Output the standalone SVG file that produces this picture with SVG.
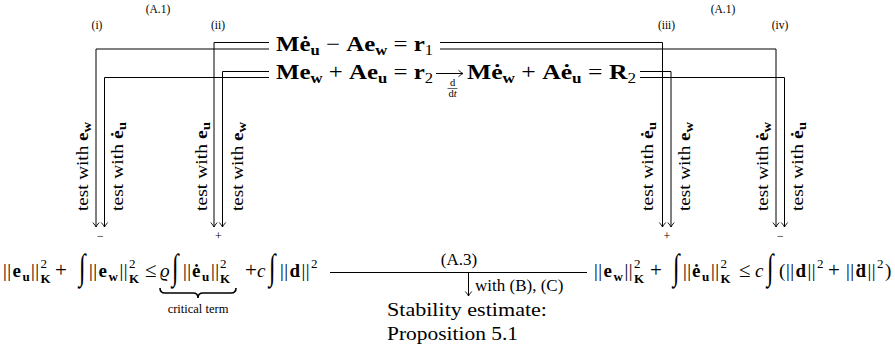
<svg xmlns="http://www.w3.org/2000/svg" width="895" height="354" viewBox="0 0 895 354">
<style>
.t{font-family:"Liberation Serif","DejaVu Serif",serif;fill:#000}
.b{font-weight:bold}
.i{font-style:italic}
.eq{font-size:21px}
.m{font-size:19px}
.op{font-size:21px}
.s{font-size:13px}
.ss{font-size:14px}
.lab{font-size:11.5px}
.vt{font-size:17px}
.sm{font-size:17px}
.int{font-family:"Liberation Serif","DejaVu Serif",serif;font-size:24px;font-style:italic;fill:#000}
.nn{letter-spacing:0.4px}
.ln{fill:none;stroke:#000;stroke-width:1}
</style>
<defs>
<marker id="ah" markerUnits="userSpaceOnUse" markerWidth="10" markerHeight="10" viewBox="-5 -5 10 10" refX="0" refY="0" orient="auto">
<path d="M-4.5,-3.2 Q-1.5,-0.6 0,0 Q-1.5,0.6 -4.5,3.2" fill="none" stroke="#000" stroke-width="0.9"/>
</marker>
</defs>
<rect width="895" height="354" fill="#fff"/>

<g id="connectors">
<path class="ln" d="M269,42.5H214V227" marker-end="url(#ah)"/>
<path class="ln" d="M269,49H96V227" marker-end="url(#ah)"/>
<path class="ln" d="M269,71.5H222.5V227" marker-end="url(#ah)"/>
<path class="ln" d="M269,77.5H104.5V227" marker-end="url(#ah)"/>
<path class="ln" d="M440,42.5H662.5V227" marker-end="url(#ah)"/>
<path class="ln" d="M440,49H776V227" marker-end="url(#ah)"/>
<path class="ln" d="M640,71.5H671V227" marker-end="url(#ah)"/>
<path class="ln" d="M640,77.5H784.5V227" marker-end="url(#ah)"/>
<path class="ln" d="M436,73.5H463" marker-end="url(#ah)"/>
<path class="ln" d="M330,272.5H587"/>
<path class="ln" d="M468.5,272.5V296" marker-end="url(#ah)"/>
<path d="M160,288 Q160,293 165,293 L193,293 Q198,293 198,298 Q198,293 203,293 L231,293 Q236,293 236,288" fill="none" stroke="#000" stroke-width="1.6"/>
</g>

<g id="top-labels" class="t lab" text-anchor="middle">
<text x="158" y="13">(A.1)</text>
<text x="723" y="13">(A.1)</text>
<text x="97" y="29">(i)</text>
<text x="218" y="29">(ii)</text>
<text x="666.5" y="29">(iii)</text>
<text x="780" y="29">(iv)</text>
</g>

<g id="eq1">
<text class="t eq" x="276" y="51" textLength="157" lengthAdjust="spacingAndGlyphs"><tspan class="b">Mė</tspan><tspan class="b ss" dy="4">u</tspan><tspan dy="-4"> − </tspan><tspan class="b">Ae</tspan><tspan class="b ss" dy="4">w</tspan><tspan dy="-4"> = </tspan><tspan class="b">r</tspan><tspan class="ss" dy="4">1</tspan></text>
</g>
<g id="eq2">
<text class="t eq" x="276" y="79" textLength="157" lengthAdjust="spacingAndGlyphs"><tspan class="b">Me</tspan><tspan class="b ss" dy="4">w</tspan><tspan dy="-4"> + </tspan><tspan class="b">Ae</tspan><tspan class="b ss" dy="4">u</tspan><tspan dy="-4"> = </tspan><tspan class="b">r</tspan><tspan class="ss" dy="4">2</tspan></text>
</g>
<g id="ddt" class="t" text-anchor="middle" font-size="10.5">
<text x="452.5" y="86">d</text>
<line x1="447.5" y1="88.5" x2="457.5" y2="88.5" stroke="#000" stroke-width="0.6"/>
<text x="452.5" y="97">d<tspan class="i">t</tspan></text>
</g>
<g id="eq3">
<text class="t eq" x="467" y="79" textLength="169" lengthAdjust="spacingAndGlyphs"><tspan class="b">Mė</tspan><tspan class="b ss" dy="4">w</tspan><tspan dy="-4"> + </tspan><tspan class="b">Aė</tspan><tspan class="b ss" dy="4">u</tspan><tspan dy="-4"> = </tspan><tspan class="b">R</tspan><tspan class="ss" dy="4">2</tspan></text>
</g>

<g id="tests" class="t vt">
<text transform="translate(87.5,211) rotate(-90)" textLength="89" lengthAdjust="spacingAndGlyphs">test with <tspan class="b">e</tspan><tspan class="b s" dy="3">w</tspan></text>
<text transform="translate(123,211) rotate(-90)" textLength="89" lengthAdjust="spacingAndGlyphs">test with <tspan class="b">ė</tspan><tspan class="b s" dy="3">u</tspan></text>
<text transform="translate(207,211) rotate(-90)" textLength="89" lengthAdjust="spacingAndGlyphs">test with <tspan class="b">e</tspan><tspan class="b s" dy="3">u</tspan></text>
<text transform="translate(242.5,211) rotate(-90)" textLength="89" lengthAdjust="spacingAndGlyphs">test with <tspan class="b">e</tspan><tspan class="b s" dy="3">w</tspan></text>
<text transform="translate(653,211) rotate(-90)" textLength="89" lengthAdjust="spacingAndGlyphs">test with <tspan class="b">ė</tspan><tspan class="b s" dy="3">u</tspan></text>
<text transform="translate(690,211) rotate(-90)" textLength="89" lengthAdjust="spacingAndGlyphs">test with <tspan class="b">e</tspan><tspan class="b s" dy="3">w</tspan></text>
<text transform="translate(768,211) rotate(-90)" textLength="89" lengthAdjust="spacingAndGlyphs">test with <tspan class="b">ė</tspan><tspan class="b s" dy="3">w</tspan></text>
<text transform="translate(803,211) rotate(-90)" textLength="89" lengthAdjust="spacingAndGlyphs">test with <tspan class="b">ė</tspan><tspan class="b s" dy="3">u</tspan></text>
</g>

<g id="signs" class="t" font-size="12" text-anchor="middle">
<text x="100.3" y="240">−</text>
<text x="218.3" y="240">+</text>
<text x="666.8" y="240">+</text>
<text x="780.3" y="240">−</text>
</g>

<g id="estimate-left">
<text class="t m"><tspan class="nn" x="3" y="277">||</tspan><tspan class="b" x="12.5">e</tspan><tspan class="b s" x="22.5" y="281">u</tspan><tspan class="nn" x="31" y="277">||</tspan><tspan class="s" x="40.5" y="268">2</tspan><tspan class="b s" x="40.5" y="283">K</tspan><tspan class="op" x="55" y="277">+</tspan><tspan class="nn" x="89" y="277">||</tspan><tspan class="b" x="98.5">e</tspan><tspan class="b s" x="108.5" y="281">w</tspan><tspan class="nn" x="119.5" y="277">||</tspan><tspan class="s" x="129" y="268">2</tspan><tspan class="b s" x="129" y="283">K</tspan><tspan class="op" x="145" y="277">≤</tspan><tspan class="i" x="160">ϱ</tspan><tspan class="nn" x="183" y="277">||</tspan><tspan class="b" x="192">ė</tspan><tspan class="b s" x="202" y="281">u</tspan><tspan class="nn" x="211" y="277">||</tspan><tspan class="s" x="220" y="268">2</tspan><tspan class="b s" x="220" y="283">K</tspan><tspan class="op" x="245" y="277">+</tspan><tspan class="i" x="257">c</tspan><tspan class="nn" x="280" y="277">||</tspan><tspan class="b" x="289.5">d</tspan><tspan class="nn" x="301.6">||</tspan><tspan class="s" x="311" y="268">2</tspan></text>
<text class="int" transform="translate(79,279) scale(1,1.5)">∫</text>
<text class="int" transform="translate(172,279) scale(1,1.5)">∫</text>
<text class="int" transform="translate(269,279) scale(1,1.5)">∫</text>
<text class="t" font-size="12.5" x="198" y="313" text-anchor="middle">critical term</text>
</g>

<g id="a3">
<text class="t sm" x="459" y="265" text-anchor="middle">(A.3)</text>
<text class="t sm" x="475" y="291">with (B), (C)</text>
</g>

<g id="stability">
<text class="t m" x="387" y="316" textLength="160" lengthAdjust="spacingAndGlyphs">Stability estimate:</text>
<text class="t m" x="387" y="340" textLength="131" lengthAdjust="spacingAndGlyphs">Proposition 5.1</text>
</g>

<g id="estimate-right">
<text class="t m"><tspan class="nn" x="594" y="277">||</tspan><tspan class="b" x="603.5">e</tspan><tspan class="b s" x="613.5" y="281">w</tspan><tspan class="nn" x="624.5" y="277">||</tspan><tspan class="s" x="634" y="268">2</tspan><tspan class="b s" x="634" y="283">K</tspan><tspan class="op" x="650" y="277">+</tspan><tspan class="nn" x="683" y="277">||</tspan><tspan class="b" x="692">ė</tspan><tspan class="b s" x="702" y="281">u</tspan><tspan class="nn" x="711" y="277">||</tspan><tspan class="s" x="720.5" y="268">2</tspan><tspan class="b s" x="720.5" y="283">K</tspan><tspan class="op" x="739" y="277">≤</tspan><tspan class="i" x="755">c</tspan><tspan x="779" y="277">(</tspan><tspan class="nn" x="786">||</tspan><tspan class="b" x="795.5">d</tspan><tspan class="nn" x="807.5">||</tspan><tspan class="s" x="817" y="268">2</tspan><tspan class="op" x="828" y="277">+</tspan><tspan class="nn" x="846">||</tspan><tspan class="b" x="855.5">ḋ</tspan><tspan class="nn" x="867.5">||</tspan><tspan class="s" x="877" y="268">2</tspan><tspan x="885" y="277">)</tspan></text>
<text class="int" transform="translate(673,279) scale(1,1.5)">∫</text>
<text class="int" transform="translate(767,279) scale(1,1.5)">∫</text>
</g>
</svg>
